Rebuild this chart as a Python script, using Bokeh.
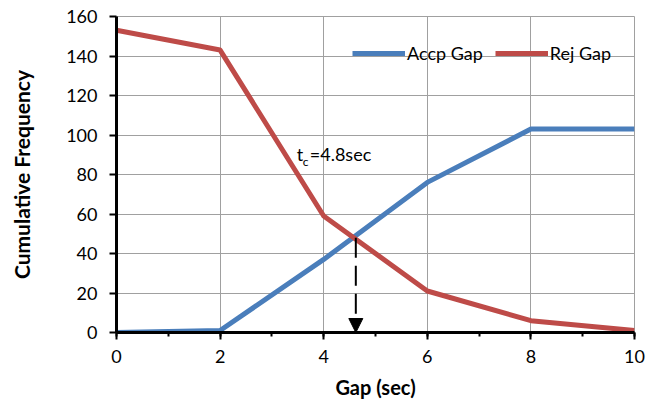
from bokeh.plotting import figure
from bokeh.models import (ColumnDataSource, Legend, LegendItem, SingleIntervalTicker,
                          Arrow, NormalHead, Label)
from bokeh.embed import file_html
from bokeh.resources import INLINE

# ---- data ----
gap = [0, 2, 4, 6, 8, 10]
accp_gap = [0, 1, 37, 76, 103, 103]
rej_gap = [153, 143, 59, 21, 6, 1]
tc_x = 4.62          # crossing point (critical gap marker)
tc_y = 48
tc_text_x = 3.48     # annotation anchor
tc_text_y = 85
x_ticks = [0, 2, 4, 6, 8, 10]
y_ticks = [0, 20, 40, 60, 80, 100, 120, 140, 160]

FONT = "Lato"
BLUE = "#4A7EBB"
RED = "#BE4B48"

p = figure(width=650, height=403, output_backend="svg", toolbar_location=None,
           x_range=(0, 10), y_range=(0, 160),
           min_border_left=116, min_border_right=16, min_border_top=16, min_border_bottom=71)
p.background_fill_color = "white"
p.border_fill_color = "white"
p.outline_line_color = "#A0A0A0"
p.outline_line_width = 1

src = ColumnDataSource(dict(gap=gap, accp=accp_gap, rej=rej_gap))
r1 = p.line("gap", "accp", source=src, line_color=BLUE, line_width=5, line_join="round")
r2 = p.line("gap", "rej", source=src, line_color=RED, line_width=5, line_join="round")

# axes
p.xaxis.ticker = SingleIntervalTicker(interval=2, num_minor_ticks=2)
p.yaxis.ticker = y_ticks
for ax in (p.xaxis[0], p.yaxis[0]):
    ax.axis_line_color = "black"
    ax.axis_line_width = 3
    ax.major_tick_line_color = "black"
    ax.major_tick_line_width = 2
    ax.major_tick_in = 0
    ax.major_tick_out = 7
    ax.major_label_text_font = FONT
    ax.major_label_text_font_size = "18px"
    ax.major_label_text_color = "black"
    ax.axis_label_text_font = FONT
    ax.axis_label_text_font_style = "bold"
    ax.axis_label_text_color = "black"
p.xaxis.axis_label_text_font_size = "20px"
p.yaxis.axis_label_text_font_size = "21px"
p.xaxis.minor_tick_line_color = "black"
p.xaxis.minor_tick_line_width = 2
p.xaxis.minor_tick_in = 0
p.xaxis.minor_tick_out = 4
p.yaxis.minor_tick_line_color = None
p.xaxis.major_label_standoff = 10
p.yaxis.major_label_standoff = 12
p.xaxis.axis_label = "Gap (sec)"
p.yaxis.axis_label = "Cumulative Frequency"
p.xaxis.axis_label_standoff = 9
p.yaxis.axis_label_standoff = 29

p.xgrid.ticker = x_ticks
p.ygrid.ticker = y_ticks
p.grid.grid_line_color = "#A0A0A0"
p.grid.grid_line_width = 1

# critical gap arrow
p.add_layout(Arrow(x_start=tc_x, y_start=tc_y, x_end=tc_x, y_end=0,
                   line_color="black", line_width=2, line_dash="20 8",
                   end=NormalHead(size=14, fill_color="black", line_color="black")))

# annotation t_c=4.8sec
p.add_layout(Label(x=tc_text_x, y=tc_text_y, text="t", text_font=FONT,
                   text_font_size="18px", text_color="black"))
p.add_layout(Label(x=tc_text_x, y=tc_text_y, x_offset=6, y_offset=-4, text="c",
                   text_font=FONT, text_font_size="12px", text_color="black"))
p.add_layout(Label(x=tc_text_x, y=tc_text_y, x_offset=13, text="=4.8sec",
                   text_font=FONT, text_font_size="18px", text_color="black"))

legend = Legend(items=[LegendItem(label="Accp Gap", renderers=[r1]),
                       LegendItem(label="Rej Gap", renderers=[r2])],
                orientation="horizontal", location=(236, 268),
                background_fill_alpha=0, border_line_color=None,
                padding=0, margin=0, spacing=12, label_standoff=2,
                glyph_width=53, glyph_height=20,
                label_text_font=FONT, label_text_font_size="18px",
                label_text_color="black")
p.add_layout(legend)

open("out.html", "w").write(file_html(p, INLINE))
